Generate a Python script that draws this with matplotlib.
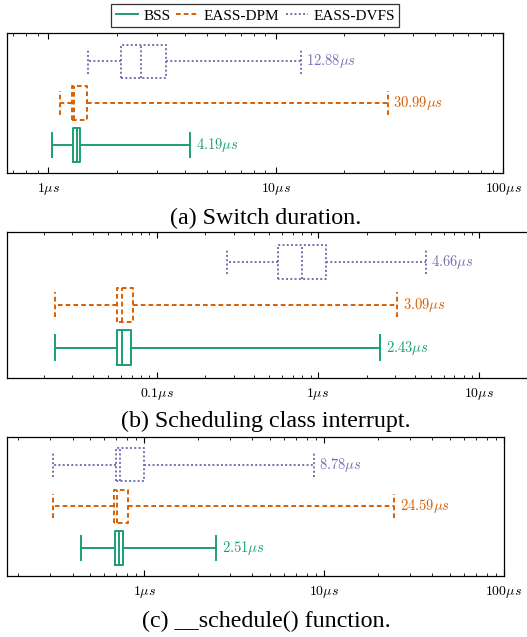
import matplotlib
matplotlib.use('Agg')
import matplotlib.pyplot as plt

plt.rcParams['mathtext.fontset'] = 'cm'
plt.rcParams['font.family'] = ['Liberation Serif', 'DejaVu Serif']

# series names and styles
series = ['BSS', 'EASS-DPM', 'EASS-DVFS']
colors = ['#1b9e77', '#d95f02', '#7570b3']
styles = ['-', (0, (2.4, 1.6)), (0, (1, 1.2))]

# (a) Switch duration, values in us: low whisker, q1, median, q3, high whisker
a_low = [1.04, 1.13, 1.49]
a_q1 = [1.28, 1.27, 2.08]
a_med = [1.33, 1.30, 2.55]
a_q3 = [1.38, 1.48, 3.29]
a_high = [4.19, 30.99, 12.88]

# (b) Scheduling class interrupt
b_low = [0.0234, 0.0234, 0.272]
b_q1 = [0.0565, 0.057, 0.567]
b_med = [0.061, 0.061, 0.796]
b_q3 = [0.0693, 0.071, 1.12]
b_high = [2.43, 3.09, 4.66]

# (c) __schedule() function
c_low = [0.445, 0.31, 0.31]
c_q1 = [0.69, 0.676, 0.696]
c_med = [0.726, 0.705, 0.73]
c_q3 = [0.767, 0.811, 1.0]
c_high = [2.51, 24.59, 8.78]

captions = ['(a) Switch duration.', '(b) Scheduling class interrupt.',
            '(c) __schedule() function.']

fig = plt.figure(figsize=(5.27, 6.37), dpi=100)

panels = [
    (a_low, a_q1, a_med, a_q3, a_high),
    (b_low, b_q1, b_med, b_q3, b_high),
    (c_low, c_q1, c_med, c_q3, c_high),
]
rects = [
    [0.0133, 0.7284, 0.942, 0.2198],
    [0.0133, 0.4071, 1.0423, 0.2292],
    [0.0133, 0.0958, 0.943, 0.2187],
]
xlims = [(0.658, 100), (0.0118, 30), (0.173, 100)]
ylims = [(0.33, 3.68), (0.3, 3.7), (0.33, 3.67)]
ticks = [[1, 10, 100], [0.1, 1, 10], [1, 10, 100]]
tick_labels = [[r'$1\mu s$', r'$10\mu s$', r'$100\mu s$'],
               [r'$0.1\mu s$', r'$1\mu s$', r'$10\mu s$'],
               [r'$1\mu s$', r'$10\mu s$', r'$100\mu s$']]
caption_y = [0.657, 0.338, 0.024]

for k, (low, q1, med, q3, high) in enumerate(panels):
    ax = fig.add_axes(rects[k])
    for i in range(3):
        stats = [{'whislo': low[i], 'q1': q1[i], 'med': med[i],
                  'q3': q3[i], 'whishi': high[i], 'fliers': []}]
        lp = dict(color=colors[i], linestyle=styles[i], linewidth=1.4)
        ax.bxp(stats, positions=[i + 1], vert=False, widths=0.8,
               showfliers=False, capwidths=0.58,
               boxprops=lp, whiskerprops=lp, capprops=lp, medianprops=lp)
        ax.annotate(r'$%.2f\mu s$' % high[i], (high[i], i + 1),
                    xytext=(4, 0), textcoords='offset points',
                    ha='left', va='center', color=colors[i], fontsize=10.5)
    ax.set_xscale('log')
    ax.set_xlim(*xlims[k])
    ax.set_ylim(*ylims[k])
    ax.set_yticks([])
    ax.set_xticks(ticks[k])
    ax.set_xticklabels(tick_labels[k], fontsize=10)
    ax.tick_params(axis='x', which='both', direction='in', top=True)
    ax.tick_params(axis='x', which='major', length=4, pad=6)
    ax.tick_params(axis='x', which='minor', length=2.5)
    for s in ax.spines.values():
        s.set_linewidth(0.9)
    fig.text(0.505, caption_y[k], captions[k], ha='center', va='center',
             fontsize=17.3)

handles = [plt.Line2D([], [], color=colors[i], linestyle=styles[i], linewidth=1.4)
           for i in range(3)]
leg = fig.legend(handles, series, loc='center', bbox_to_anchor=(0.484, 0.975),
                 ncol=3, fancybox=False, edgecolor='black', fontsize=11,
                 handlelength=1.5, columnspacing=0.4, handletextpad=0.3,
                 borderpad=0.3, borderaxespad=0)
leg.get_frame().set_linewidth(0.9)

fig.savefig('out.png', dpi=100)
